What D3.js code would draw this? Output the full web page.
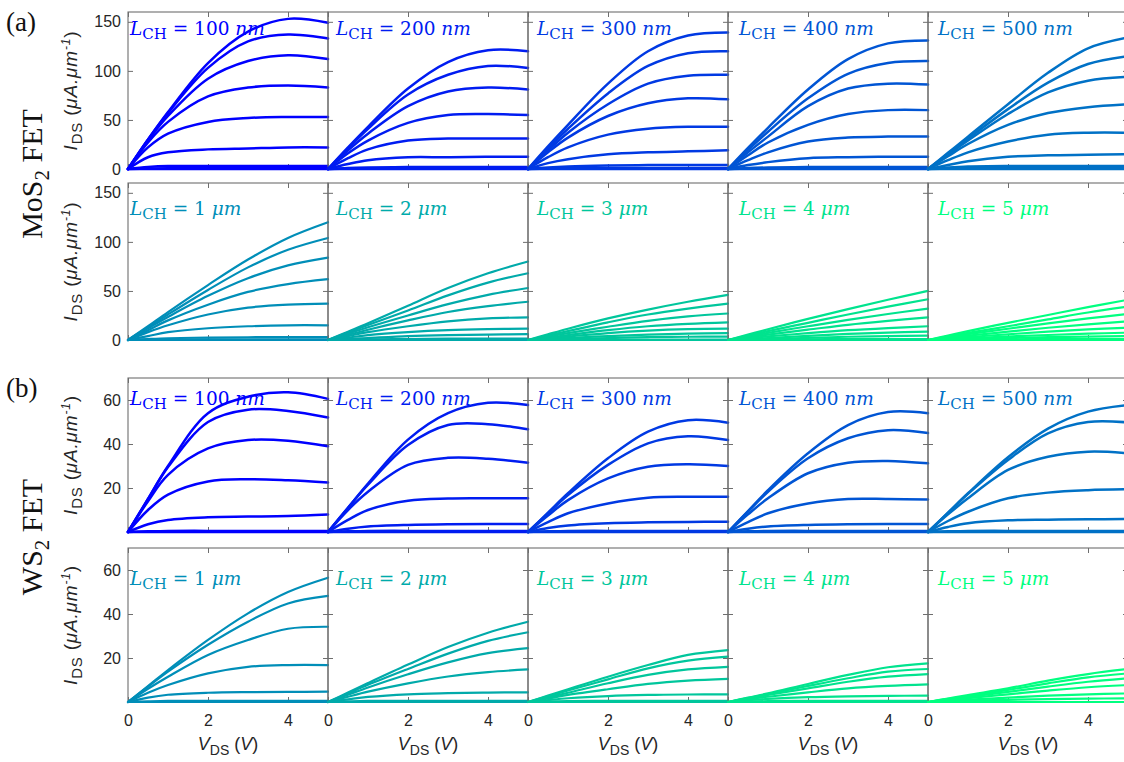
<!DOCTYPE html>
<html><head><meta charset="utf-8">
<script src="https://cdn.jsdelivr.net/npm/d3@7"></script>
<style>body{margin:0;background:#fff}svg{display:block}</style>
</head><body>
<svg id="c" width="1124" height="762"></svg>
<script>
// ---------------- data ----------------
const vds = [0, 0.5, 1, 2, 3, 4, 5];
const xTicks = [0, 2, 4];
const yTicksMoS2 = [0, 50, 100, 150];
const yTicksWS2 = [20, 40, 60];
const yMaxMoS2 = 160;
const yMaxWS2 = 70;
const shortLengths = ["100", "200", "300", "400", "500"];
const longLengths = ["1", "2", "3", "4", "5"];
const panelColors = ["#0000ff", "#001cf1", "#0039e3", "#0055d4", "#0071c6",
                     "#008eb8", "#00aaaa", "#00c69c", "#00e38e", "#00ff80"];

const mos2_100nm = [
  [0, 30, 58, 108, 140, 153, 149],
  [0, 30, 57, 103, 130, 137, 133],
  [0, 29, 54, 92, 110, 116, 112],
  [0, 27, 48, 74, 83, 85, 83],
  [0, 22, 36, 48, 52, 53, 53],
  [0, 12, 17, 20, 21, 22, 22],
  [0, 2, 3, 3, 3, 3, 3],
  [0, 0.5, 0.8, 1, 1, 1, 1],
  [0, 0, 0, 0, 0, 0, 0]
];
const mos2_200nm = [
  [0, 22, 43, 82, 109, 121, 120],
  [0, 21, 41, 76, 96, 105, 103],
  [0, 19, 36, 64, 79, 83, 81],
  [0, 16, 29, 47, 55, 56, 55],
  [0, 11, 20, 29, 31, 31, 31],
  [0, 5, 9, 12, 12, 12.5, 12.5],
  [0, 1, 1.5, 2, 2, 2, 2],
  [0, 0.3, 0.5, 0.5, 0.5, 0.5, 0.5],
  [0, 0, 0, 0, 0, 0, 0]
];
const mos2_300nm = [
  [0, 23, 45, 87, 120, 136, 139],
  [0, 21, 41, 77, 105, 118, 120],
  [0, 19, 37, 66, 87, 95, 96],
  [0, 17, 32, 54, 67, 72, 71],
  [0, 12, 22, 35, 41, 43, 43],
  [0, 6, 10, 15, 17, 18, 19],
  [0, 1.5, 2.5, 3.5, 4, 4, 4],
  [0, 0.5, 0.8, 1, 1, 1, 1],
  [0, 0, 0, 0, 0, 0, 0]
];
const mos2_400nm = [
  [0, 21.5, 42, 81, 112, 128, 131],
  [0, 19.5, 38, 72, 97, 108, 110],
  [0, 17, 33, 64, 82, 87, 86],
  [0, 14, 27, 45, 56, 60, 60],
  [0, 9, 17, 28, 32, 33, 33],
  [0, 4, 7, 11, 12, 12.5, 12.5],
  [0, 1, 1.5, 2, 2, 2, 2],
  [0, 0.3, 0.5, 0.5, 0.5, 0.5, 0.5],
  [0, 0, 0, 0, 0, 0, 0]
];
const mos2_500nm = [
  [0, 16.5, 33, 66, 98, 123, 134],
  [0, 15.5, 31, 61, 88, 107, 115],
  [0, 14.5, 29, 56, 78, 90, 94],
  [0, 13, 25.5, 45, 57, 63, 66],
  [0, 9, 17, 28, 35, 37, 37],
  [0, 4, 8, 12.5, 14, 14.5, 15],
  [0, 1.5, 2.5, 3, 3, 3, 3],
  [0, 0.5, 0.8, 1, 1, 1, 1],
  [0, 0, 0, 0, 0, 0, 0]
];
const mos2_1um = [
  [0, 14, 28.5, 56, 82, 104, 120],
  [0, 13, 26, 51, 74, 92, 104],
  [0, 12, 23.5, 45, 63, 76, 84],
  [0, 10, 20, 36, 49, 57, 62],
  [0, 8, 15, 26, 33, 36, 37],
  [0, 4, 8, 12, 14, 15, 15],
  [0, 1, 1.8, 2.5, 2.8, 3, 3],
  [0, 0.3, 0.5, 0.6, 0.6, 0.6, 0.6],
  [0, 0, 0, 0, 0, 0, 0]
];
const mos2_2um = [
  [0, 8.5, 17, 35, 53, 68, 80],
  [0, 7.6, 15.2, 30, 45.5, 58.5, 68],
  [0, 6.5, 13, 25, 36.5, 46, 53],
  [0, 5.3, 10.5, 20, 28.5, 34.5, 39],
  [0, 4, 8, 14, 19, 22, 23],
  [0, 2.5, 5, 8, 10, 11, 11.5],
  [0, 1, 2, 4, 5, 5.5, 6],
  [0, 0.3, 0.6, 1, 1.3, 1.4, 1.5],
  [0, 0, 0, 0, 0, 0, 0]
];
const mos2_3um = [
  [0, 5.8, 11.5, 22, 31, 39, 46],
  [0, 4.5, 9, 18, 26, 32, 37],
  [0, 3.5, 7, 13.5, 19.5, 24, 27],
  [0, 2.5, 5, 10, 14, 16.5, 18],
  [0, 1.8, 3.5, 7, 9.5, 11, 11.5],
  [0, 1, 2, 4, 5.5, 6.5, 7],
  [0, 0.5, 1, 2, 3, 3.3, 3.5],
  [0, 0.2, 0.3, 0.5, 0.5, 0.5, 0.5],
  [0, 0, 0, 0, 0, 0, 0]
];
const mos2_4um = [
  [0, 5.5, 11, 21.5, 31.5, 41, 50],
  [0, 4.5, 9, 17.5, 26, 34, 41.5],
  [0, 3.7, 7.3, 14, 20.5, 26.5, 32],
  [0, 2.8, 5.5, 10.5, 15.5, 19.5, 23],
  [0, 1.8, 3.6, 7, 10, 12.2, 14],
  [0, 1, 2, 4.3, 6.2, 7.6, 8.5],
  [0, 0.5, 1, 2.2, 3.3, 4, 4.5],
  [0, 0.2, 0.4, 0.7, 0.9, 1, 1],
  [0, 0, 0, 0, 0, 0, 0]
];
const mos2_5um = [
  [0, 4.5, 9, 17.5, 25.5, 33.5, 41],
  [0, 3.7, 7.3, 14, 21, 28, 34],
  [0, 3, 6, 11.5, 17, 22, 26.5],
  [0, 2.2, 4.4, 8.5, 12.5, 16, 19],
  [0, 1.5, 3, 5.8, 8.5, 10.8, 12.6],
  [0, 0.9, 1.8, 3.5, 5.1, 6.4, 7.5],
  [0, 0.5, 1, 2, 2.9, 3.5, 4],
  [0, 0.2, 0.4, 0.7, 0.9, 1, 1],
  [0, 0, 0, 0, 0, 0, 0]
];

const ws2_100nm = [
  [0, 15, 30, 54, 61.5, 63.5, 60.5],
  [0, 15, 29.5, 50, 55.6, 55, 52],
  [0, 14, 26, 38, 41.8, 41.5, 39],
  [0, 10, 17, 23, 24, 23.5, 22.5],
  [0, 3.5, 5.5, 6.7, 7, 7.3, 8],
  [0, 0.3, 0.5, 0.5, 0.5, 0.5, 0.5],
  [0, 0, 0, 0, 0, 0, 0]
];
const ws2_200nm = [
  [0, 11, 22, 42, 54, 58.7, 57.7],
  [0, 11, 21.5, 39.5, 48.6, 49, 46.7],
  [0, 10, 18.3, 30.5, 33.7, 33.3, 31.5],
  [0, 5.5, 10, 14.2, 15.2, 15.3, 15.3],
  [0, 1.5, 2.5, 3.2, 3.5, 3.6, 3.6],
  [0, 0.3, 0.5, 0.5, 0.5, 0.5, 0.5],
  [0, 0, 0, 0, 0, 0, 0]
];
const ws2_300nm = [
  [0, 8.8, 17.6, 33.5, 45.6, 50.8, 49.7],
  [0, 8.5, 16.8, 30.5, 40.3, 43.5, 41.8],
  [0, 7.5, 14.5, 24.4, 29.7, 30.8, 30],
  [0, 4.5, 8.5, 13, 15.6, 16, 16],
  [0, 1.8, 3, 4, 4.4, 4.6, 4.7],
  [0, 0.3, 0.5, 0.5, 0.5, 0.5, 0.5],
  [0, 0, 0, 0, 0, 0, 0]
];
const ws2_400nm = [
  [0, 9.5, 19, 35.8, 48.6, 54.5, 54],
  [0, 9.3, 18.3, 33.5, 42.6, 46.3, 45],
  [0, 8, 15.3, 26.7, 31.5, 32.3, 31.2],
  [0, 4.5, 8.5, 13, 15, 15, 14.8],
  [0, 1.5, 2.5, 3.2, 3.5, 3.6, 3.6],
  [0, 0.3, 0.5, 0.5, 0.5, 0.5, 0.5],
  [0, 0, 0, 0, 0, 0, 0]
];
const ws2_500nm = [
  [0, 8.8, 17.6, 34, 47, 54.7, 57.7],
  [0, 8.7, 17.3, 32.7, 44.8, 50, 49.8],
  [0, 8, 15.3, 28.2, 34.2, 36.5, 35.8],
  [0, 5, 9.2, 15.3, 17.9, 19, 19.4],
  [0, 2.3, 4, 5.3, 5.6, 5.8, 5.9],
  [0, 0.3, 0.5, 0.5, 0.5, 0.5, 0.5],
  [0, 0, 0, 0, 0, 0, 0]
];
const ws2_1um = [
  [0, 7.2, 14.5, 28.2, 40.3, 50, 56.5],
  [0, 7, 13.8, 26, 36.5, 44.8, 48.2],
  [0, 6, 11.5, 21.4, 28.2, 33.3, 34.2],
  [0, 4.2, 7.7, 13, 16, 16.8, 16.8],
  [0, 2, 3.3, 4.2, 4.5, 4.6, 4.7],
  [0, 0.3, 0.5, 0.5, 0.5, 0.5, 0.5],
  [0, 0, 0, 0, 0, 0, 0]
];
const ws2_2um = [
  [0, 4.3, 8.6, 17, 25, 31.5, 36.5],
  [0, 3.9, 7.8, 15, 22, 27.8, 31.7],
  [0, 3.3, 6.6, 12.6, 18, 22.2, 24.5],
  [0, 2.4, 4.7, 8.5, 11.6, 13.6, 14.8],
  [0, 1.2, 2.3, 3.5, 4, 4.3, 4.4],
  [0, 0.3, 0.5, 0.5, 0.5, 0.5, 0.5],
  [0, 0, 0, 0, 0, 0, 0]
];
const ws2_3um = [
  [0, 2.9, 5.8, 11.5, 16.8, 21.4, 23.6],
  [0, 2.6, 5.2, 10.3, 15.3, 18.8, 20.6],
  [0, 2.1, 4.2, 8.5, 12.3, 14.8, 16],
  [0, 1.6, 3.2, 5.8, 8.2, 9.7, 10.5],
  [0, 0.9, 1.7, 2.7, 3.2, 3.4, 3.5],
  [0, 0.2, 0.4, 0.5, 0.5, 0.5, 0.5],
  [0, 0, 0, 0, 0, 0, 0]
];
const ws2_4um = [
  [0, 2, 3.9, 8.2, 12.3, 15.8, 17.6],
  [0, 1.8, 3.6, 7.3, 10.8, 13.8, 15],
  [0, 1.6, 3.2, 6.2, 9.2, 11.5, 12.7],
  [0, 1.2, 2.4, 4.4, 6.2, 7.3, 8],
  [0, 0.8, 1.4, 2.2, 2.6, 2.8, 2.9],
  [0, 0.2, 0.4, 0.5, 0.5, 0.5, 0.5],
  [0, 0, 0, 0, 0, 0, 0]
];
const ws2_5um = [
  [0, 1.6, 3.2, 6.2, 9.7, 12.7, 15],
  [0, 1.4, 2.7, 5.5, 8.5, 11.2, 13],
  [0, 1.2, 2.3, 4.6, 7, 9.2, 10.8],
  [0, 0.9, 1.8, 3.5, 5.2, 6.7, 7.7],
  [0, 0.6, 1.1, 2, 2.9, 3.5, 3.9],
  [0, 0.3, 0.6, 1, 1.3, 1.5, 1.7],
  [0, 0, 0, 0, 0, 0, 0]
];

// ---------------- layout ----------------
const svg = d3.select("#c");
const colX0 = 128, colW = 200;
const labelDx = [2, 8, 9, 11, 10];
const rows = [
  {top: 12,  h: 157, ymax: yMaxMoS2, yt: yTicksMoS2, data: [mos2_100nm, mos2_200nm, mos2_300nm, mos2_400nm, mos2_500nm], lens: shortLengths, unit: "nm", c0: 0, ldy: 23, bottom: false},
  {top: 183, h: 157, ymax: yMaxMoS2, yt: yTicksMoS2, data: [mos2_1um, mos2_2um, mos2_3um, mos2_4um, mos2_5um], lens: longLengths, unit: "\u03bcm", c0: 5, ldy: 32, bottom: false},
  {top: 378, h: 154, ymax: yMaxWS2, yt: yTicksWS2, data: [ws2_100nm, ws2_200nm, ws2_300nm, ws2_400nm, ws2_500nm], lens: shortLengths, unit: "nm", c0: 0, ldy: 27, bottom: false},
  {top: 548, h: 154, ymax: yMaxWS2, yt: yTicksWS2, data: [ws2_1um, ws2_2um, ws2_3um, ws2_4um, ws2_5um], lens: longLengths, unit: "\u03bcm", c0: 5, ldy: 37, bottom: true}
];
const axisColor = "#6e6e6e";
const tickFont = "'Liberation Sans', Arial, sans-serif";
const serif = "'Liberation Serif', 'Times New Roman', serif";
const labelSerif = "'DejaVu Serif', 'Liberation Serif', serif";

function styleAxis(g) {
  g.select(".domain").remove();
  g.selectAll(".tick line").attr("stroke", axisColor).attr("stroke-width", 1);
  g.selectAll(".tick text").attr("fill", "#262626").style("font-family", tickFont).style("font-size", "16px");
}

rows.forEach((row, r) => {
  const y = d3.scaleLinear().domain([0, row.ymax]).range([row.top + row.h, row.top]);
  row.data.forEach((curves, c) => {
    const x0 = colX0 + c * colW;
    const x = d3.scaleLinear().domain([0, 5]).range([x0, x0 + colW]);
    const color = panelColors[row.c0 + c];
    const g = svg.append("g");

    g.append("rect")
      .attr("x", x0).attr("y", row.top).attr("width", colW).attr("height", row.h)
      .attr("fill", "none").attr("stroke", axisColor).attr("stroke-width", 1.1);

    g.append("g").attr("transform", `translate(${x0},0)`)
      .call(d3.axisLeft(y).tickValues(row.yt).tickSizeInner(-5).tickSizeOuter(0).tickPadding(7)
        .tickFormat(c === 0 ? d3.format("d") : () => ""))
      .call(styleAxis);
    g.append("g").attr("transform", `translate(${x0 + colW},0)`)
      .call(d3.axisRight(y).tickValues(row.yt).tickSizeInner(-5).tickSizeOuter(0).tickFormat(() => ""))
      .call(styleAxis);
    g.append("g").attr("transform", `translate(0,${row.top})`)
      .call(d3.axisTop(x).tickValues(xTicks).tickSizeInner(-5).tickSizeOuter(0).tickFormat(() => ""))
      .call(styleAxis);
    g.append("g").attr("transform", `translate(0,${row.top + row.h})`)
      .call(d3.axisBottom(x).tickValues(xTicks).tickSizeInner(-5).tickSizeOuter(0).tickPadding(13)
        .tickFormat(row.bottom ? d3.format("d") : () => ""))
      .call(styleAxis);

    const line = d3.line().x(d => x(d[0])).y(d => y(d[1])).curve(d3.curveCatmullRom.alpha(0.5));
    g.selectAll("path.iv").data(curves).enter().append("path")
      .attr("class", "iv")
      .attr("d", vals => line(vds.map((v, i) => [v, vals[i]])))
      .attr("fill", "none").attr("stroke", color)
      .attr("stroke-width", r % 2 === 0 ? 2.5 : 2.2)
      .attr("stroke-linejoin", "round").attr("stroke-linecap", "round");

    // channel length label
    const t = g.append("text").attr("x", x0 + labelDx[c]).attr("y", row.top + row.ldy)
      .attr("fill", color).style("font-family", labelSerif).style("font-size", "18.5px");
    t.append("tspan").style("font-style", "italic").text("L");
    t.append("tspan").attr("dy", 4).style("font-size", "15px").text("CH");
    t.append("tspan").attr("dy", -4).text(" = " + row.lens[c] + " ");
    t.append("tspan").style("font-style", "italic").text(row.unit);

    // x label on bottom row
    if (row.bottom) {
      const xl = g.append("text").attr("x", x0 + colW / 2).attr("y", 750)
        .attr("text-anchor", "middle").attr("fill", "#262626")
        .style("font-family", tickFont).style("font-size", "18px");
      xl.append("tspan").style("font-style", "italic").text("V");
      xl.append("tspan").attr("dy", 5).style("font-size", "14px").text("DS");
      xl.append("tspan").attr("dy", -5).text(" (");
      xl.append("tspan").style("font-style", "italic").text("V");
      xl.append("tspan").text(")");
    }
  });

  // y label
  const yc = row.top + row.h / 2;
  const yl = svg.append("text").attr("transform", `translate(77,${yc}) rotate(-90)`)
    .attr("text-anchor", "middle").attr("fill", "#262626")
    .style("font-family", tickFont).style("font-size", "19px").style("letter-spacing", "0.8px");
  yl.append("tspan").style("font-style", "italic").text("I");
  yl.append("tspan").attr("dy", 5).style("font-size", "15px").text("DS");
  yl.append("tspan").attr("dy", -5).text(" (");
  yl.append("tspan").style("font-style", "italic").text("\u03bcA.\u03bcm");
  yl.append("tspan").attr("dy", -7).style("font-size", "12px").style("font-style", "italic").text("-1");
  yl.append("tspan").attr("dy", 7).text(")");
});

// group titles
function groupTitle(name, yc) {
  const t = svg.append("text").attr("transform", `translate(42,${yc}) rotate(-90)`)
    .attr("text-anchor", "middle").attr("fill", "#111")
    .style("font-family", serif).style("font-size", "30px");
  t.append("tspan").text(name);
  t.append("tspan").attr("dy", 7).style("font-size", "21px").text("2");
  t.append("tspan").attr("dy", -7).text(" FET");
}
groupTitle("MoS", 174);
groupTitle("WS", 537);

svg.append("text").attr("x", 6).attr("y", 31).attr("fill", "#111")
  .style("font-family", serif).style("font-size", "27px").text("(a)");
svg.append("text").attr("x", 6).attr("y", 397).attr("fill", "#111")
  .style("font-family", serif).style("font-size", "27px").text("(b)");
</script>
</body></html>
